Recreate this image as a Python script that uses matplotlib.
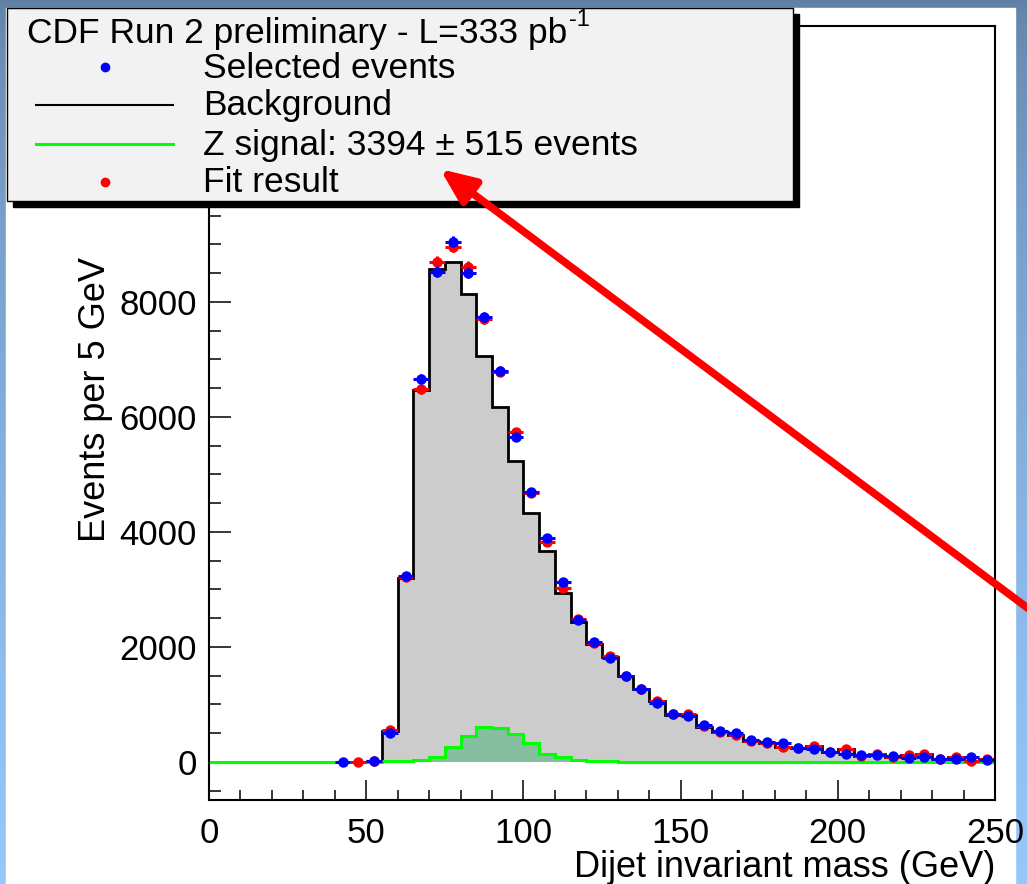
import numpy as np
import matplotlib.pyplot as plt
from matplotlib.patches import Rectangle, FancyArrowPatch
from matplotlib.ticker import MultipleLocator

plt.rcParams['font.family'] = ['Liberation Sans', 'DejaVu Sans']

# 5 GeV bins from 0 to 250 GeV
bin_edges = np.arange(0, 255, 5)

background = [0, 0, 0, 0, 0, 0, 0, 0, 0, 0,
              5, 545, 3205, 6470, 8574, 8700, 8140, 7066, 6180, 5230,
              4330, 3669, 2933, 2429, 2050, 1825, 1496, 1275, 1055, 817,
              817, 615, 525, 465, 360, 333, 263, 247, 276, 168,
              218, 103, 138, 80, 115, 138, 45, 80, 22, 45]

z_signal = [0, 0, 0, 0, 0, 0, 0, 0, 0, 0,
            0, 10, 25, 40, 95, 267, 452, 609, 597, 493,
            330, 145, 87, 40, 15, 10, 8, 3, 5, 3,
            0, 0, 0, 0, 0, 0, 0, 0, 0, 0,
            0, 0, 0, 0, 0, 0, 0, 0, 0, 0]

# points from 42.5 to 247.5 GeV
mass = np.arange(42.5, 250, 5)

selected = np.array([3, np.nan, 20, 500, 3230, 6660, 8527, 9049, 8510, 7745,
                     6805, 5650, 4695, 3890, 3125, 2469, 2092, 1803, 1501, 1264,
                     1032, 829, 795, 635, 545, 499, 383, 353, 336, 249,
                     220, 180, 139, 116, 122, 104, 64, 81, 58, 46,
                     81, 35])

fit_result = np.array([np.nan, 3, 20, 556, 3220, 6480, 8700, 8962, 8614, 7704,
                       6788, 5740, 4670, 3831, 3031, 2487, 2064, 1843, 1500, 1270,
                       1066, 840, 835, 620, 530, 470, 365, 336, 266, 249,
                       278, 170, 220, 104, 139, 81, 116, 139, 46, 81,
                       23, 46])

fig = plt.figure(figsize=(10.27, 8.84), dpi=100)

# slide background and white canvas, in pixel units
bg = fig.add_axes([0, 0, 1, 1], zorder=-10)
t = np.linspace(0, 1, 256) ** 0.6
top = np.array([96, 128, 163]) / 255
bottom = np.array([150, 200, 252]) / 255
grad = top[None, :] + (bottom - top)[None, :] * t[:, None]
bg.imshow(grad[:, None, :], extent=(0, 1027, 884, 0), aspect='auto')
bg.add_patch(Rectangle((6, 8), 1009, 876, color='white'))
bg.set_xlim(0, 1027)
bg.set_ylim(884, 0)
bg.axis('off')

ax = fig.add_axes([209 / 1027, 84 / 884, 786 / 1027, 774 / 884])
ax.stairs(background, bin_edges, fill=True, color='#cccccc', zorder=1)
ax.stairs(background, bin_edges, color='black', lw=2, zorder=3)
ax.stairs(z_signal, bin_edges, fill=True, color='#86bf9f', zorder=3)
ax.stairs(z_signal, bin_edges, color='#00ff00', lw=2.2, zorder=3.1)

ax.errorbar(mass, fit_result, xerr=2.5, yerr=np.sqrt(fit_result), fmt='o',
            color='red', ms=6.5, elinewidth=2.2, capsize=0, zorder=4)
ax.errorbar(mass, selected, xerr=2.5, yerr=np.sqrt(selected), fmt='o',
            color='blue', ms=6.5, elinewidth=2.2, capsize=0, zorder=4.1)

ax.set_xlim(0, 250)
ax.set_ylim(-661, 12800)
ax.xaxis.set_major_locator(MultipleLocator(50))
ax.xaxis.set_minor_locator(MultipleLocator(10))
ax.yaxis.set_major_locator(MultipleLocator(2000))
ax.yaxis.set_minor_locator(MultipleLocator(500))
ax.tick_params(which='both', direction='in', top=False, right=False, width=1.1, labelsize=25)
ax.tick_params(axis='x', which='major', length=14.4, pad=12.5)
ax.tick_params(axis='x', which='minor', length=7.2)
ax.tick_params(axis='y', which='major', length=15.8, pad=8.6)
ax.tick_params(axis='y', which='minor', length=8.6)
for s in ax.spines.values():
    s.set_linewidth(1.5)
    s.set_zorder(5)

ax.set_xlabel('Dijet invariant mass (GeV)', fontsize=26, loc='right', va='top')
ax.xaxis.set_label_coords(1.0, -0.064)
ax.set_ylabel('Events per 5 GeV', fontsize=26, va='center')
ax.yaxis.set_label_coords(-0.145, 0.518)

# legend box and arrow drawn on top, in pixel units
ov = fig.add_axes([0, 0, 1, 1], zorder=10)
ov.set_xlim(0, 1027)
ov.set_ylim(884, 0)
ov.axis('off')
ov.patch.set_alpha(0)

ov.add_patch(Rectangle((13, 14), 786, 193, color='black'))
ov.add_patch(Rectangle((7, 8), 786, 193, facecolor='#f2f2f2', edgecolor='black', lw=1))
head = ov.text(27, 43, 'CDF Run 2 preliminary - L=333 pb', fontsize=25.5, va='baseline')
ov.annotate('-1', xy=(1, 1), xycoords=head, xytext=(1, 6), textcoords='offset points',
            fontsize=17, ha='left', va='top')
ov.text(203, 78, 'Selected events', fontsize=25.5, va='baseline')
ov.text(203, 115, 'Background', fontsize=25.5, va='baseline')
ov.text(203, 155, 'Z signal: 3394 ± 515 events', fontsize=25.5, va='baseline')
ov.text(203, 192, 'Fit result', fontsize=25.5, va='baseline')
ov.plot([105], [67], 'o', color='blue', ms=6)
ov.plot([36, 173], [105, 105], color='black', lw=1.5)
ov.plot([36, 173], [144, 144], color='#00ff00', lw=2.2)
ov.plot([105], [182], 'o', color='red', ms=6)

ov.add_patch(FancyArrowPatch((1045, 621), (440, 169),
                             arrowstyle='-|>,head_length=21,head_width=9',
                             mutation_scale=1, lw=5.5, color='red',
                             shrinkA=0, shrinkB=0))

plt.savefig('out.png', dpi=100)
